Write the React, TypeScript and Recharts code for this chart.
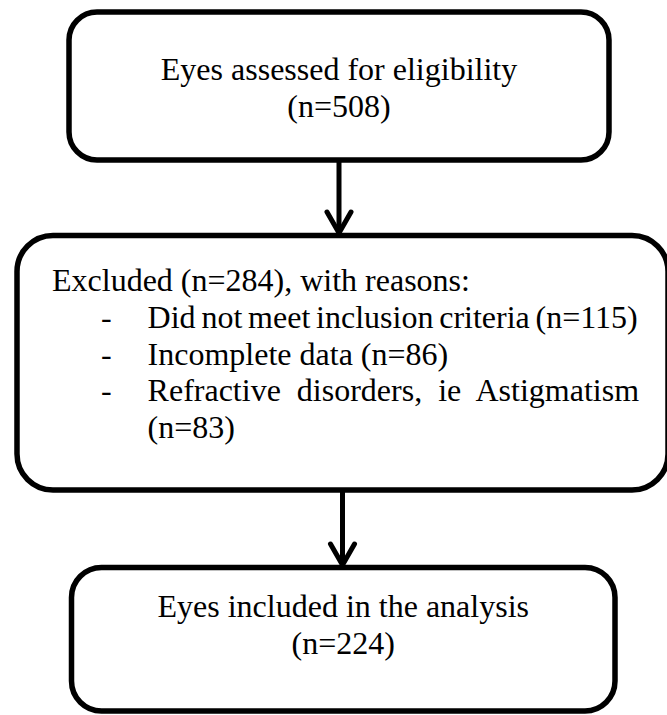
import React from 'react';
import { ComposedChart, XAxis, YAxis, ReferenceArea, ReferenceLine } from 'recharts';

// ---------- data ----------
const assessedLabel = 'Eyes assessed for eligibility';
const assessedN = 508;
const excludedLabel = 'Excluded';
const excludedN = 284;
const reasonLabels = ['Did not meet inclusion criteria', 'Incomplete data', 'Refractive disorders, ie Astigmatism'];
const reasonN = [115, 86, 83];
const includedLabel = 'Eyes included in the analysis';
const includedN = 224;

// ---------- layout (axis units = pixels) ----------
const W = 667;
const H = 715;
const FONT = '"Liberation Serif", "Times New Roman", serif';
const FONT_SIZE = 32;
const STROKE = 5.5;
const LINE_STEP = 36.75;

const boxLayout = [
  { x1: 69, x2: 609, y1: 12, y2: 160, r: 28 },
  { x1: 17, x2: 668, y1: 235.5, y2: 490, r: 36 },
  { x1: 71.5, x2: 615, y1: 567.5, y2: 711, r: 30 },
];
const arrowLayout = [
  { x: 339, from: 160, to: 233 },
  { x: 342.5, from: 490, to: 565 },
];
const reasonWrapsCount = [false, false, true];
const reasonWordSpacing = [-2.2, 0, 8];

const n = (v: number) => `(n=${v})`;

type Line = { text: string; dx: number; dy: number; anchor: 'start' | 'middle'; wordSpacing?: number };

function centeredLines(texts: string[], firstBaseline: number, width: number): Line[] {
  return texts.map((t, i) => ({ text: t, dx: width / 2, dy: firstBaseline + i * LINE_STEP, anchor: 'middle' }));
}

function excludedLines(): Line[] {
  const lines: Line[] = [];
  const base = 55.5;
  lines.push({ text: `${excludedLabel} ${n(excludedN)}, with reasons:`, dx: 35, dy: base, anchor: 'start' });
  let row = 1;
  reasonLabels.forEach((label, i) => {
    lines.push({ text: '-', dx: 84, dy: base + row * LINE_STEP, anchor: 'start' });
    if (reasonWrapsCount[i]) {
      lines.push({ text: label, dx: 130.6, dy: base + row * LINE_STEP, anchor: 'start', wordSpacing: reasonWordSpacing[i] });
      row += 1;
      lines.push({ text: n(reasonN[i]), dx: 130.6, dy: base + row * LINE_STEP, anchor: 'start' });
    } else {
      lines.push({ text: `${label} ${n(reasonN[i])}`, dx: 130.6, dy: base + row * LINE_STEP, anchor: 'start', wordSpacing: reasonWordSpacing[i] });
    }
    row += 1;
  });
  return lines;
}

const boxLines: Line[][] = [
  centeredLines([assessedLabel, n(assessedN)], 68, boxLayout[0].x2 - boxLayout[0].x1),
  excludedLines(),
  centeredLines([includedLabel, n(includedN)], 49.5, boxLayout[2].x2 - boxLayout[2].x1),
];

const makeBoxShape = (idx: number) => (props: any) => {
  const { x, y, width, height } = props;
  const r = boxLayout[idx].r;
  return (
    <g>
      <rect x={x} y={y} width={width} height={height} rx={r} ry={r} fill="#ffffff" stroke="#000000" strokeWidth={STROKE} />
      {boxLines[idx].map((l, i) => (
        <text
          key={i}
          x={x + l.dx}
          y={y + l.dy}
          textAnchor={l.anchor}
          fontFamily={FONT}
          fontSize={FONT_SIZE}
          fill="#000000"
          style={l.wordSpacing ? { wordSpacing: `${l.wordSpacing}px` } : undefined}
        >
          {l.text}
        </text>
      ))}
    </g>
  );
};

const arrowShape = (props: any) => {
  const { x1, y1, x2, y2 } = props;
  const hw = 12;
  const hl = 21;
  return (
    <g>
      <line x1={x1} y1={y1} x2={x2} y2={y2 - 1} stroke="#000" strokeWidth={5} />
      <polyline
        points={`${x2 - hw},${y2 - hl} ${x2},${y2} ${x2 + hw},${y2 - hl}`}
        fill="none"
        stroke="#000"
        strokeWidth={5}
        strokeLinecap="round"
        strokeLinejoin="miter"
      />
    </g>
  );
};

export default function App() {
  return (
    <div style={{ position: 'absolute', left: 0, top: 0, width: W, height: H, background: '#fff' }}>
      <ComposedChart width={W} height={H} margin={{ top: 0, right: 0, bottom: 0, left: 0 }} data={[]}>
        <XAxis type="number" dataKey="x" domain={[0, W]} hide allowDataOverflow />
        <YAxis type="number" dataKey="y" domain={[0, H]} reversed hide allowDataOverflow />
        {arrowLayout.map((a, i) => (
          <ReferenceLine
            key={`a${i}`}
            segment={[{ x: a.x, y: a.from }, { x: a.x, y: a.to }]}
            ifOverflow="visible"
            shape={arrowShape}
          />
        ))}
        {boxLayout.map((b, i) => (
          <ReferenceArea
            key={`b${i}`}
            x1={b.x1}
            x2={b.x2}
            y1={b.y1}
            y2={b.y2}
            ifOverflow="visible"
            shape={makeBoxShape(i)}
          />
        ))}
      </ComposedChart>
    </div>
  );
}
